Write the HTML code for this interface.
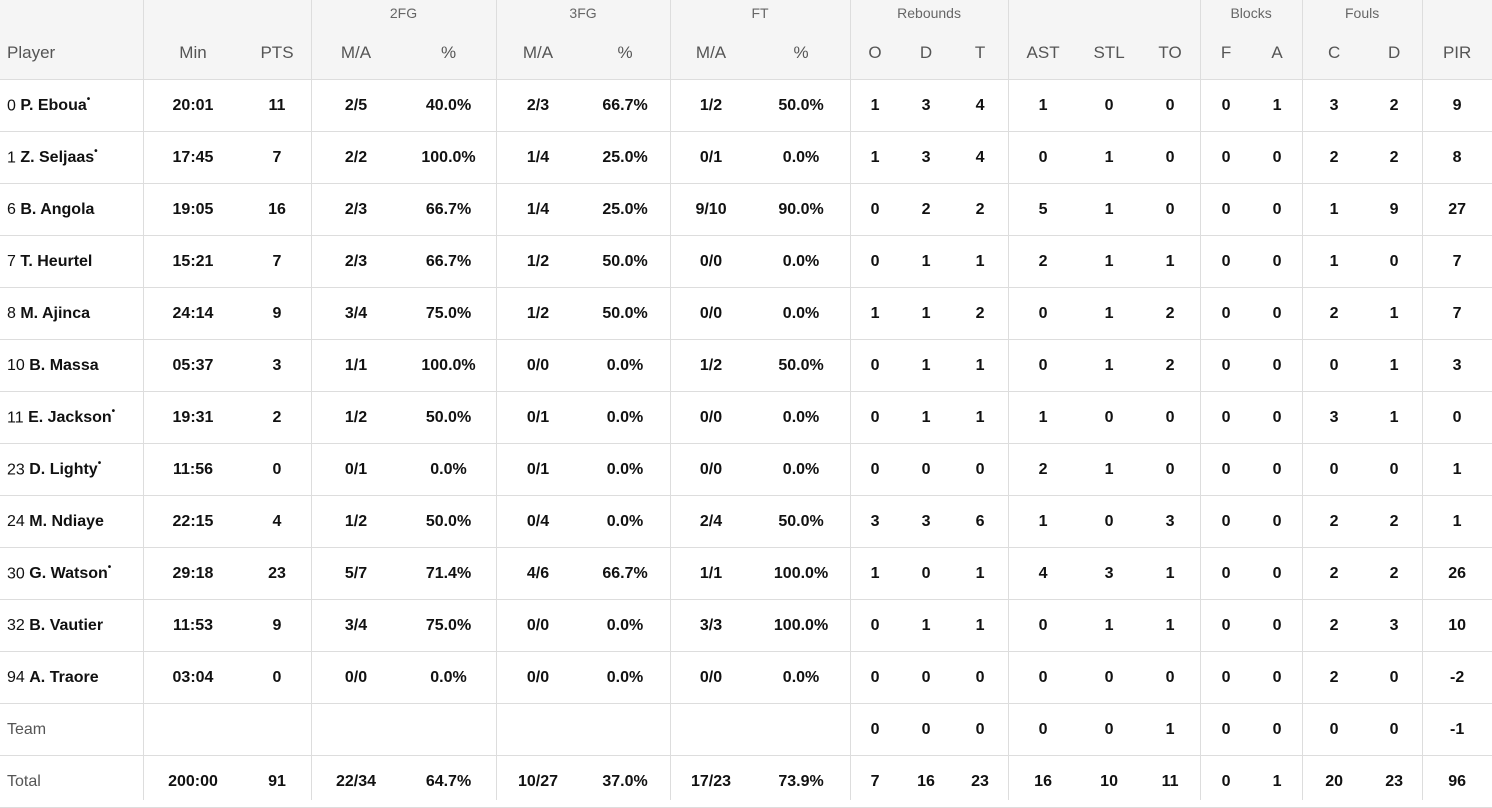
<!DOCTYPE html>
<html><head><meta charset="utf-8"><style>
body{margin:0;width:1492px;height:800px;overflow:hidden;background:#fff;font-family:"Liberation Sans",Arial,sans-serif;position:relative}
table{border-collapse:collapse;table-layout:fixed;width:1492px;position:absolute;left:0;top:0}
td,th{padding:0;text-align:center;white-space:nowrap}
thead tr.g th{height:26px;font-size:14px;font-weight:normal;color:#666;background:#f5f5f5;vertical-align:middle}
thead tr.s th{height:53px;font-size:17px;font-weight:normal;color:#555;background:#f5f5f5;border-bottom:1px solid #ddd;vertical-align:middle}
tbody td{height:51px;border-bottom:1px solid #ddd;font-size:16px;font-weight:bold;color:#111}
td.p,th.p{text-align:left;padding-left:7px}
td.p{font-weight:normal}
td.p b{font-weight:bold}
td.p sup{font-size:10px;position:relative;top:-2px}
tr.t td.p{color:#555}
.v{position:absolute;top:0;width:1px;height:800px;background:#ddd}
</style></head><body>
<table>
<colgroup><col style="width:143px"><col style="width:100px"><col style="width:68px"><col style="width:90px"><col style="width:95px"><col style="width:84px"><col style="width:90px"><col style="width:82px"><col style="width:98px"><col style="width:50px"><col style="width:52px"><col style="width:56px"><col style="width:70px"><col style="width:62px"><col style="width:60px"><col style="width:52px"><col style="width:50px"><col style="width:64px"><col style="width:56px"><col style="width:70px"></colgroup>
<thead>
<tr class="g"><th></th><th></th><th></th><th colspan="2">2FG</th><th colspan="2">3FG</th><th colspan="2">FT</th><th colspan="3">Rebounds</th><th></th><th></th><th></th><th colspan="2">Blocks</th><th colspan="2">Fouls</th><th></th></tr>
<tr class="s"><th class="p">Player</th><th>Min</th><th>PTS</th><th>M/A</th><th>%</th><th>M/A</th><th>%</th><th>M/A</th><th>%</th><th>O</th><th>D</th><th>T</th><th>AST</th><th>STL</th><th>TO</th><th>F</th><th>A</th><th>C</th><th>D</th><th>PIR</th></tr>
</thead>
<tbody>
<tr><td class="p">0 <b>P. Eboua<sup>•</sup></b></td><td>20:01</td><td>11</td><td>2/5</td><td>40.0%</td><td>2/3</td><td>66.7%</td><td>1/2</td><td>50.0%</td><td>1</td><td>3</td><td>4</td><td>1</td><td>0</td><td>0</td><td>0</td><td>1</td><td>3</td><td>2</td><td>9</td></tr>
<tr><td class="p">1 <b>Z. Seljaas<sup>•</sup></b></td><td>17:45</td><td>7</td><td>2/2</td><td>100.0%</td><td>1/4</td><td>25.0%</td><td>0/1</td><td>0.0%</td><td>1</td><td>3</td><td>4</td><td>0</td><td>1</td><td>0</td><td>0</td><td>0</td><td>2</td><td>2</td><td>8</td></tr>
<tr><td class="p">6 <b>B. Angola</b></td><td>19:05</td><td>16</td><td>2/3</td><td>66.7%</td><td>1/4</td><td>25.0%</td><td>9/10</td><td>90.0%</td><td>0</td><td>2</td><td>2</td><td>5</td><td>1</td><td>0</td><td>0</td><td>0</td><td>1</td><td>9</td><td>27</td></tr>
<tr><td class="p">7 <b>T. Heurtel</b></td><td>15:21</td><td>7</td><td>2/3</td><td>66.7%</td><td>1/2</td><td>50.0%</td><td>0/0</td><td>0.0%</td><td>0</td><td>1</td><td>1</td><td>2</td><td>1</td><td>1</td><td>0</td><td>0</td><td>1</td><td>0</td><td>7</td></tr>
<tr><td class="p">8 <b>M. Ajinca</b></td><td>24:14</td><td>9</td><td>3/4</td><td>75.0%</td><td>1/2</td><td>50.0%</td><td>0/0</td><td>0.0%</td><td>1</td><td>1</td><td>2</td><td>0</td><td>1</td><td>2</td><td>0</td><td>0</td><td>2</td><td>1</td><td>7</td></tr>
<tr><td class="p">10 <b>B. Massa</b></td><td>05:37</td><td>3</td><td>1/1</td><td>100.0%</td><td>0/0</td><td>0.0%</td><td>1/2</td><td>50.0%</td><td>0</td><td>1</td><td>1</td><td>0</td><td>1</td><td>2</td><td>0</td><td>0</td><td>0</td><td>1</td><td>3</td></tr>
<tr><td class="p">11 <b>E. Jackson<sup>•</sup></b></td><td>19:31</td><td>2</td><td>1/2</td><td>50.0%</td><td>0/1</td><td>0.0%</td><td>0/0</td><td>0.0%</td><td>0</td><td>1</td><td>1</td><td>1</td><td>0</td><td>0</td><td>0</td><td>0</td><td>3</td><td>1</td><td>0</td></tr>
<tr><td class="p">23 <b>D. Lighty<sup>•</sup></b></td><td>11:56</td><td>0</td><td>0/1</td><td>0.0%</td><td>0/1</td><td>0.0%</td><td>0/0</td><td>0.0%</td><td>0</td><td>0</td><td>0</td><td>2</td><td>1</td><td>0</td><td>0</td><td>0</td><td>0</td><td>0</td><td>1</td></tr>
<tr><td class="p">24 <b>M. Ndiaye</b></td><td>22:15</td><td>4</td><td>1/2</td><td>50.0%</td><td>0/4</td><td>0.0%</td><td>2/4</td><td>50.0%</td><td>3</td><td>3</td><td>6</td><td>1</td><td>0</td><td>3</td><td>0</td><td>0</td><td>2</td><td>2</td><td>1</td></tr>
<tr><td class="p">30 <b>G. Watson<sup>•</sup></b></td><td>29:18</td><td>23</td><td>5/7</td><td>71.4%</td><td>4/6</td><td>66.7%</td><td>1/1</td><td>100.0%</td><td>1</td><td>0</td><td>1</td><td>4</td><td>3</td><td>1</td><td>0</td><td>0</td><td>2</td><td>2</td><td>26</td></tr>
<tr><td class="p">32 <b>B. Vautier</b></td><td>11:53</td><td>9</td><td>3/4</td><td>75.0%</td><td>0/0</td><td>0.0%</td><td>3/3</td><td>100.0%</td><td>0</td><td>1</td><td>1</td><td>0</td><td>1</td><td>1</td><td>0</td><td>0</td><td>2</td><td>3</td><td>10</td></tr>
<tr><td class="p">94 <b>A. Traore</b></td><td>03:04</td><td>0</td><td>0/0</td><td>0.0%</td><td>0/0</td><td>0.0%</td><td>0/0</td><td>0.0%</td><td>0</td><td>0</td><td>0</td><td>0</td><td>0</td><td>0</td><td>0</td><td>0</td><td>2</td><td>0</td><td>-2</td></tr>
<tr class="t"><td class="p">Team</td><td></td><td></td><td></td><td></td><td></td><td></td><td></td><td></td><td>0</td><td>0</td><td>0</td><td>0</td><td>0</td><td>1</td><td>0</td><td>0</td><td>0</td><td>0</td><td>-1</td></tr>
<tr class="t"><td class="p">Total</td><td>200:00</td><td>91</td><td>22/34</td><td>64.7%</td><td>10/27</td><td>37.0%</td><td>17/23</td><td>73.9%</td><td>7</td><td>16</td><td>23</td><td>16</td><td>10</td><td>11</td><td>0</td><td>1</td><td>20</td><td>23</td><td>96</td></tr>
</tbody>
</table>
<div class="v" style="left:143px"></div><div class="v" style="left:311px"></div><div class="v" style="left:496px"></div><div class="v" style="left:670px"></div><div class="v" style="left:850px"></div><div class="v" style="left:1008px"></div><div class="v" style="left:1200px"></div><div class="v" style="left:1302px"></div><div class="v" style="left:1422px"></div>
</body></html>
